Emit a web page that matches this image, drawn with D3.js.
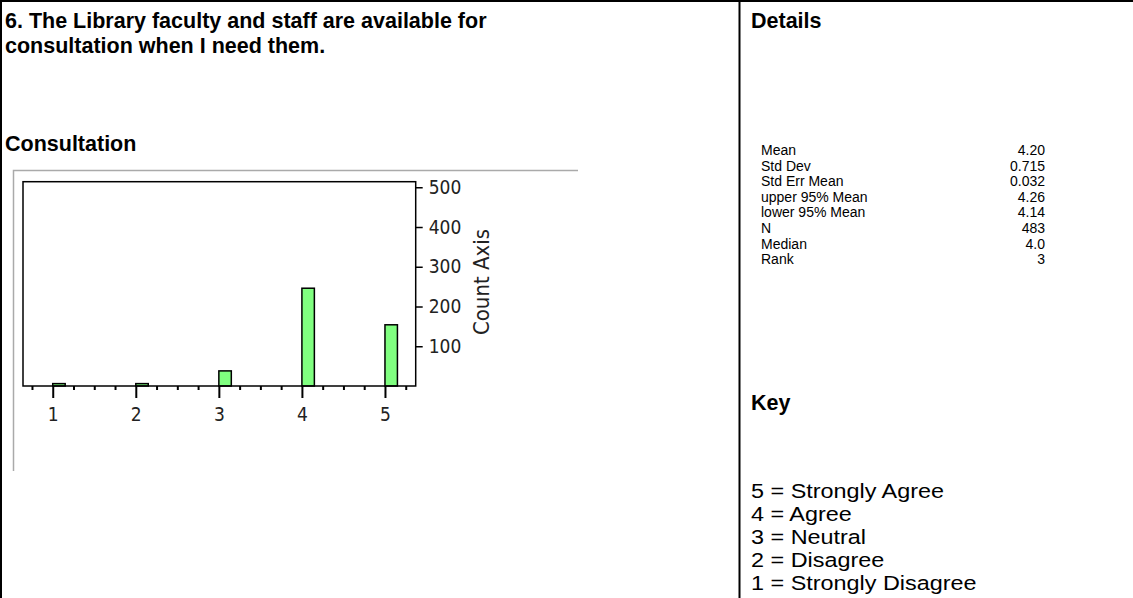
<!DOCTYPE html>
<html>
<head>
<meta charset="utf-8">
<script src="https://cdn.jsdelivr.net/npm/d3@7"></script>
<style>
  body { margin: 0; background: #fff; }
  text { font-family: "Liberation Sans", Arial, sans-serif; fill: #000; }
  .bold { font-weight: bold; font-size: 21.5px; }
  .tick text { font-family: "DejaVu Sans Condensed", "Liberation Sans Narrow", Arial, sans-serif; font-size: 19px; fill: #222; }
</style>
</head>
<body>
<div id="svg-area"></div>
<script>
// Histogram data (response level -> count)
var levels = [1, 2, 3, 4, 5];
var counts = [6, 6, 38, 246, 154];
var countTicks = [100, 200, 300, 400, 500];

// Details table
var statNames = ["Mean", "Std Dev", "Std Err Mean", "upper 95% Mean", "lower 95% Mean", "N", "Median", "Rank"];
var statValues = ["4.20", "0.715", "0.032", "4.26", "4.14", "483", "4.0", "3"];

// Key
var keyLabels = ["5 = Strongly Agree", "4 = Agree", "3 = Neutral", "2 = Disagree", "1 = Strongly Disagree"];

var titleLines = ["6. The Library faculty and staff are available for", "consultation when I need them."];

var svgWidth = 1133;
var svgHeight = 598;

var svg = d3.select("#svg-area")
  .append("svg")
  .attr("width", svgWidth)
  .attr("height", svgHeight);

// table borders
svg.append("line").attr("x1", 0).attr("x2", svgWidth).attr("y1", 1).attr("y2", 1)
  .attr("stroke", "#000").attr("stroke-width", 2);
svg.append("line").attr("x1", 1).attr("x2", 1).attr("y1", 0).attr("y2", svgHeight)
  .attr("stroke", "#000").attr("stroke-width", 2);
svg.append("line").attr("x1", 739.5).attr("x2", 739.5).attr("y1", 0).attr("y2", svgHeight)
  .attr("stroke", "#000").attr("stroke-width", 2);

// left column text
svg.selectAll(".title")
  .data(titleLines)
  .enter()
  .append("text")
  .attr("class", "bold")
  .attr("x", 5)
  .attr("y", (d, i) => 28 + i * 25)
  .text(d => d);

svg.append("text").attr("class", "bold").attr("x", 5).attr("y", 151).text("Consultation");

// right column text
svg.append("text").attr("class", "bold").attr("x", 751).attr("y", 28).text("Details");

svg.selectAll(".statName")
  .data(statNames)
  .enter()
  .append("text")
  .attr("x", 761)
  .attr("y", (d, i) => 155 + i * 15.6)
  .style("font-size", "14px")
  .text(d => d);

svg.selectAll(".statValue")
  .data(statValues)
  .enter()
  .append("text")
  .attr("x", 1045)
  .attr("y", (d, i) => 155 + i * 15.6)
  .attr("text-anchor", "end")
  .style("font-size", "14px")
  .text(d => d);

svg.append("text").attr("class", "bold").attr("x", 751).attr("y", 410).text("Key");

// key rows are a bit wider than tall in the original
svg.selectAll(".key")
  .data(keyLabels)
  .enter()
  .append("text")
  .attr("transform", (d, i) => `translate(751, ${498 + i * 23}) scale(1.2, 1)`)
  .style("font-size", "19.5px")
  .text(d => d);

// gray report frame around the chart
svg.append("path")
  .attr("d", "M13.5,471V170.5H578")
  .attr("fill", "none")
  .attr("stroke", "#aaa")
  .attr("stroke-width", 1.5);

// chart area
var plot = { left: 23, right: 415.7, top: 181.7, bottom: 386 };

var xScale = d3.scaleLinear()
  .domain([0.642, 5.37])
  .range([plot.left, plot.right]);

var yScale = d3.scaleLinear()
  .domain([0, 514])
  .range([plot.bottom, plot.top]);

var barWidth = 0.15;

var chartGroup = svg.append("g");

chartGroup.selectAll(".bar")
  .data(levels)
  .enter()
  .append("rect")
  .attr("class", "bar")
  .attr("x", d => xScale(d))
  .attr("y", (d, i) => yScale(counts[i]))
  .attr("width", d => xScale(d + barWidth) - xScale(d))
  .attr("height", (d, i) => yScale(0) - yScale(counts[i]))
  .attr("fill", "#80ff80")
  .attr("stroke", "#000")
  .attr("stroke-width", 1.5);

chartGroup.append("rect")
  .attr("x", plot.left)
  .attr("y", plot.top)
  .attr("width", plot.right - plot.left)
  .attr("height", plot.bottom - plot.top)
  .attr("fill", "none")
  .attr("stroke", "#000")
  .attr("stroke-width", 1.5);

// x axis, major + minor ticks
var minorTicks = d3.range(3, 22).map(i => i / 4).filter(v => v % 1 !== 0);

chartGroup.append("g")
  .attr("transform", `translate(0, ${plot.bottom})`)
  .call(d3.axisBottom(xScale).tickValues(minorTicks).tickSize(4).tickFormat(""))
  .call(g => g.select(".domain").remove())
  .selectAll("line").attr("stroke-width", 2);

chartGroup.append("g")
  .attr("transform", `translate(0, ${plot.bottom})`)
  .call(d3.axisBottom(xScale).tickValues(levels).tickSize(12).tickPadding(10).tickFormat(d3.format("d")))
  .call(g => g.select(".domain").remove())
  .selectAll("line").attr("stroke-width", 2);

// count axis on the right
chartGroup.append("g")
  .attr("transform", `translate(${plot.right}, 0)`)
  .call(d3.axisRight(yScale).tickValues(countTicks).tickSize(7).tickPadding(6))
  .call(g => g.select(".domain").remove())
  .selectAll("line").attr("stroke-width", 1.5);

chartGroup.append("text")
  .attr("transform", "rotate(-90)")
  .attr("x", -282)
  .attr("y", 489)
  .attr("text-anchor", "middle")
  .style("font-family", "'DejaVu Sans Condensed', 'Liberation Sans Narrow', Arial, sans-serif")
  .style("font-size", "22px")
  .style("fill", "#222")
  .text("Count Axis");
</script>
</body>
</html>
